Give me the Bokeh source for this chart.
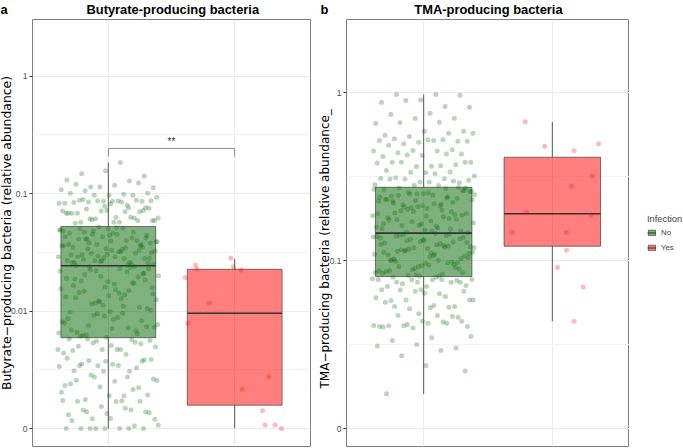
from bokeh.plotting import figure
from bokeh.layouts import row
from bokeh.models import FixedTicker, Legend, LegendItem, Range1d, Title
from bokeh.embed import file_html
from bokeh.resources import INLINE
from bokeh.core.properties import value

FONT = "Liberation Sans"
LABEL_FONT = "DejaVu Sans"
GREEN = "#006400"
RED = "#FF0000"
NBSP = "\u00a0"

groups = ["No", "Yes"]
group_pos = [1, 2]

# ---------------- Butyrate-producing bacteria ----------------
but_title = "Butyrate-producing bacteria"
but_ylabel = "Butyrate\u2212producing bacteria (relative abundance)"
but_ticks = [0.001, 0.01, 0.1, 1]
but_tick_labels = ["0", "0.01", "0.1", "1"]
but_lo = [0.001, 0.001]
but_q1 = [0.00594, 0.00158]
but_med = [0.0243, 0.00958]
but_q3 = [0.0525, 0.0227]
but_hi = [0.184, 0.0279]

but_no = [
    0.184, 0.148, 0.141, 0.157, 0.131, 0.128, 0.114, 0.112, 0.118, 0.120, 0.123, 0.114,
    0.108, 0.099, 0.106, 0.101, 0.097, 0.101, 0.097, 0.097, 0.093, 0.087, 0.088, 0.086,
    0.086, 0.083, 0.080, 0.085, 0.087, 0.086, 0.084, 0.088, 0.087, 0.083, 0.085, 0.089,
    0.076, 0.072, 0.068, 0.063, 0.060, 0.059, 0.063, 0.068, 0.070, 0.071, 0.071, 0.070,
    0.074, 0.075, 0.082, 0.068, 0.062, 0.061, 0.062, 0.057, 0.057, 0.072, 0.078, 0.068,
    0.076, 0.061, 0.059, 0.057, 0.056, 0.059,
    0.052, 0.049, 0.051, 0.047, 0.044, 0.050, 0.046, 0.042, 0.048, 0.039, 0.045, 0.041,
    0.037, 0.043, 0.036, 0.040, 0.034, 0.038, 0.033, 0.035, 0.031, 0.037, 0.029, 0.032,
    0.030, 0.028, 0.034, 0.027, 0.026, 0.031, 0.025, 0.029, 0.0245, 0.033, 0.0265, 0.036,
    0.028, 0.041, 0.0255, 0.044, 0.030, 0.047, 0.027, 0.039, 0.032, 0.0505, 0.035, 0.0285,
    0.043, 0.0248, 0.038, 0.0315, 0.046, 0.026, 0.040, 0.0295, 0.049, 0.0335, 0.0275, 0.042,
    0.0305, 0.037, 0.025, 0.045, 0.0325, 0.0515, 0.029, 0.036, 0.0268, 0.048, 0.0345, 0.041,
    0.0282, 0.0395, 0.0258,
    0.024, 0.022, 0.020, 0.023, 0.018, 0.021, 0.016, 0.019, 0.015, 0.0225, 0.014, 0.017,
    0.013, 0.0195, 0.012, 0.0155, 0.011, 0.0205, 0.0105, 0.0135, 0.0098, 0.0175, 0.0092, 0.0125,
    0.0088, 0.0145, 0.0083, 0.0112, 0.0079, 0.0215, 0.0075, 0.0102, 0.0071, 0.0165, 0.0068, 0.0095,
    0.0065, 0.0128, 0.0062, 0.0185, 0.0060, 0.0086, 0.0235, 0.0115, 0.0073, 0.0152, 0.0066, 0.0108,
    0.0198, 0.0081, 0.0138, 0.0063, 0.0228, 0.0099, 0.0069, 0.0172, 0.0118, 0.0077, 0.0142, 0.0061,
    0.0208, 0.0091, 0.0132, 0.0072, 0.0238, 0.0158, 0.0085, 0.0188, 0.0064, 0.0122, 0.0219, 0.0096,
    0.0148, 0.0074, 0.0178,
    0.00579, 0.00571, 0.00534, 0.00494, 0.00470, 0.00502, 0.00527, 0.00470, 0.00438, 0.00426,
    0.00579, 0.00562, 0.00510, 0.00461, 0.00544, 0.00555, 0.00470, 0.00470, 0.00355, 0.00385,
    0.00374, 0.00396, 0.00307, 0.00285, 0.00264, 0.00253, 0.00258, 0.00222, 0.00226, 0.00204,
    0.00190, 0.00177, 0.00193, 0.00190, 0.00240, 0.00215, 0.00274, 0.00256, 0.00344, 0.00344,
    0.00374, 0.00307, 0.00233, 0.00275, 0.00379, 0.00387, 0.00353, 0.00311, 0.00329, 0.00342,
    0.00338, 0.00172, 0.00144, 0.00138, 0.00134, 0.00131, 0.00144, 0.00121, 0.00120, 0.00170,
    0.00171, 0.00171, 0.00154, 0.00173, 0.00149, 0.00139, 0.00137, 0.00122, 0.00117, 0.00105,
    0.001, 0.00107, 0.001, 0.001, 0.001, 0.001, 0.001, 0.001, 0.001,
]
but_yes = [0.0282, 0.0247, 0.0229, 0.0239, 0.0224, 0.0193, 0.01174, 0.00787, 0.00275,
           0.00217, 0.00142, 0.00107, 0.00107, 0.001]
but_yes_jit = [-0.03, -0.31, -0.30, -0.01, 0.05, -0.39, -0.20, -0.37, 0.27, 0.06, 0.22,
               0.24, 0.32, 0.37]
but_sig = "**"
but_sig_y = [0.207, 0.242]

# ---------------- TMA-producing bacteria ----------------
tma_title = "TMA-producing bacteria"
tma_ylabel = "TMA\u2212producing bacteria (relative abundance_"
tma_ticks = [0.01, 0.1, 1]
tma_tick_labels = ["0", "0.1", "1"]
tma_lo = [0.0161, 0.0435]
tma_q1 = [0.0803, 0.1217]
tma_med = [0.1455, 0.190]
tma_q3 = [0.273, 0.412]
tma_hi = [0.973, 0.669]

tma_no = [
    0.973, 0.973, 0.964, 0.904, 0.875, 0.826, 0.896, 0.818, 0.753, 0.740, 0.703, 0.700,
    0.656, 0.665, 0.660, 0.589, 0.589, 0.557, 0.573, 0.547, 0.573, 0.518, 0.530, 0.513,
    0.506, 0.518, 0.523, 0.495, 0.513, 0.523, 0.486, 0.456, 0.452, 0.448, 0.448, 0.438,
    0.430, 0.422, 0.416, 0.430, 0.425, 0.385, 0.364, 0.385, 0.371, 0.363, 0.381, 0.367,
    0.385, 0.385, 0.333, 0.343, 0.337, 0.335, 0.319, 0.328, 0.311, 0.290, 0.293, 0.308,
    0.307, 0.306, 0.301, 0.293, 0.306, 0.297, 0.281, 0.283, 0.280,
    0.27, 0.26, 0.25, 0.265, 0.24, 0.255, 0.23, 0.245, 0.22, 0.235, 0.21, 0.225,
    0.2, 0.215, 0.19, 0.205, 0.18, 0.195, 0.17, 0.185, 0.16, 0.175, 0.15, 0.165,
    0.155, 0.268, 0.148, 0.258, 0.172, 0.242, 0.188, 0.228, 0.158, 0.212, 0.198, 0.262,
    0.152, 0.232, 0.178, 0.248, 0.168, 0.218, 0.192, 0.272, 0.162, 0.238, 0.182, 0.208,
    0.147, 0.252, 0.174, 0.222, 0.196, 0.266, 0.156, 0.244, 0.186, 0.212, 0.166, 0.236,
    0.202, 0.258, 0.15, 0.226, 0.176, 0.249, 0.19, 0.216, 0.161, 0.27, 0.184, 0.231,
    0.154, 0.206, 0.246,
    0.145, 0.14, 0.135, 0.13, 0.125, 0.12, 0.115, 0.11, 0.105, 0.1, 0.095, 0.09,
    0.085, 0.081, 0.142, 0.137, 0.132, 0.127, 0.122, 0.117, 0.112, 0.107, 0.102, 0.097,
    0.092, 0.087, 0.083, 0.143, 0.128, 0.118, 0.108, 0.098, 0.088, 0.138, 0.124, 0.113,
    0.103, 0.093, 0.084, 0.141, 0.131, 0.121, 0.111, 0.101, 0.091, 0.082, 0.139, 0.126,
    0.116, 0.106, 0.096, 0.086, 0.144, 0.134, 0.119, 0.109, 0.099, 0.089, 0.0805, 0.136,
    0.123, 0.114, 0.104, 0.094, 0.087, 0.129, 0.119, 0.109, 0.1, 0.092, 0.085, 0.133,
    0.112, 0.097, 0.0815,
    0.0771, 0.0768, 0.0796, 0.0760, 0.0743, 0.0771, 0.0768, 0.0727, 0.0710, 0.0700, 0.0700,
    0.0743, 0.0768, 0.0778, 0.0796, 0.0743, 0.0743, 0.0670, 0.0670, 0.0611, 0.0583, 0.0583,
    0.0523, 0.0578, 0.0532, 0.0657, 0.0600, 0.0634, 0.0667, 0.0657, 0.0639, 0.0565, 0.0527,
    0.0516, 0.0583, 0.0540, 0.0532, 0.0460, 0.0482, 0.0405, 0.0430, 0.0409, 0.0405, 0.0424,
    0.0409, 0.0464, 0.0397, 0.0410, 0.0471, 0.0471, 0.0435, 0.0435, 0.0402, 0.0424, 0.0416,
    0.0353, 0.0347, 0.0334, 0.0302, 0.0316, 0.0310, 0.0291, 0.0271, 0.0220, 0.0237, 0.0161,
]
tma_yes = [0.670, 0.479, 0.450, 0.495, 0.318, 0.277, 0.194, 0.187, 0.147, 0.147, 0.115,
           0.0908, 0.0697, 0.0435]
tma_yes_jit = [-0.21, -0.06, 0.17, 0.36, 0.31, 0.15, -0.20, 0.30, -0.31, 0.11, 0.11,
               0.04, 0.24, 0.17]


def spread(n):
    # deterministic, evenly spread horizontal jitter (width 0.4 each side)
    return [(((k + 1) * 0.6180339887) % 1.0 - 0.5) * 0.8 for k in range(n)]


def make_panel(width, left, right, letter, gap, title, title_offset,
               ylabel, label_size, label_standoff, label_align, label_offset,
               yrange, ticks, labels, minor,
               lo, q1, med, q3, hi, no_vals, yes_vals, yes_jit):
    p = figure(width=width, height=448, y_axis_type="log",
               x_range=Range1d(0.4, 2.6), y_range=Range1d(*yrange),
               output_backend="svg", toolbar_location=None,
               min_border_left=left, min_border_right=right,
               min_border_top=19, min_border_bottom=2)
    p.title = Title(text=letter + NBSP * gap + title, align="left", offset=title_offset,
                    text_font=FONT, text_font_size="12.9px", text_font_style="bold",
                    text_color="black", standoff=2, vertical_align="top")
    p.xaxis.visible = False
    p.outline_line_color = "#7f7f7f"
    p.outline_line_width = 1
    p.background_fill_color = "white"
    p.border_fill_color = "white"

    ax = p.yaxis[0]
    ax.ticker = FixedTicker(ticks=ticks, minor_ticks=minor)
    ax.major_label_overrides = {t: l for t, l in zip(ticks, labels)}
    ax.axis_line_color = None
    ax.major_tick_line_color = "#333333"
    ax.major_tick_out = 3
    ax.major_tick_in = 0
    ax.minor_tick_line_color = None
    ax.major_label_text_font = FONT
    ax.major_label_text_font_size = "8.5px"
    ax.major_label_text_color = "#4D4D4D"
    ax.major_label_standoff = 1

    # y-axis title, drawn as a side title next to the axis
    yt = Title(text=ylabel, align=label_align, offset=label_offset, vertical_align="middle",
               text_font=LABEL_FONT, text_font_size=label_size, text_font_style="normal",
               text_color="black")
    try:
        yt.standoff = label_standoff
    except Exception:
        yt.standoff = 0
    p.add_layout(yt, "left")

    p.ygrid.ticker = FixedTicker(ticks=ticks, minor_ticks=minor)
    p.ygrid.grid_line_color = "#EBEBEB"
    p.ygrid.minor_grid_line_color = "#F4F4F4"
    p.xgrid.ticker = FixedTicker(ticks=group_pos)
    p.xgrid.grid_line_color = "#EBEBEB"

    colors = [GREEN, RED]
    for i, pos in enumerate(group_pos):
        p.segment(x0=[pos, pos], y0=[q3[i], q1[i]], x1=[pos, pos], y1=[hi[i], lo[i]],
                  line_color="#555555", line_width=1)
        p.vbar(x=[pos], width=0.75, bottom=[q1[i]], top=[q3[i]],
               fill_color=colors[i], fill_alpha=0.5,
               line_color="#333333", line_width=0.8, line_alpha=0.8)
        p.segment(x0=[pos - 0.375], y0=[med[i]], x1=[pos + 0.375], y1=[med[i]],
                  line_color="#333333", line_width=1.6)

    jit = spread(len(no_vals))
    p.scatter(x=[group_pos[0] + j for j in jit], y=no_vals, size=5,
              fill_color=GREEN, fill_alpha=0.27, line_color=None)
    p.scatter(x=[group_pos[1] + j for j in yes_jit], y=yes_vals, size=5,
              fill_color=RED, fill_alpha=0.27, line_color=None)
    return p


# ---- panel a ----
pa = make_panel(318, 32, 8, "a", 22, but_title, -32,
                but_ylabel, "12.4px", -15, "center", 0,
                (0.000703, 3.04), but_ticks, but_tick_labels, [0.00316, 0.0316, 0.316],
                but_lo, but_q1, but_med, but_q3, but_hi, but_no, but_yes, but_yes_jit)
pa.line(x=[group_pos[0], group_pos[0], group_pos[1], group_pos[1]],
        y=[but_sig_y[0], but_sig_y[1], but_sig_y[1], but_sig_y[0]],
        line_color="#8c8c8c", line_width=1)
pa.text(x=[sum(group_pos) / 2], y=[but_sig_y[1] * 1.03], text=[but_sig],
        text_align="center", text_baseline="bottom", text_font=value(FONT),
        text_font_size="10px", text_color="#333333")

# ---- panel b ----
pb = make_panel(311, 28, 0, "b", 24, tma_title, -26,
                tma_ylabel, "12.0px", -13, "left", 58,
                (0.00782, 2.72), tma_ticks, tma_tick_labels, [0.0316, 0.316],
                tma_lo, tma_q1, tma_med, tma_q3, tma_hi, tma_no, tma_yes, tma_yes_jit)

# ---- legend strip ----
pl = figure(width=54, height=448, x_range=Range1d(-10, -9), y_range=Range1d(-10, -9),
            output_backend="svg", toolbar_location=None,
            min_border_left=0, min_border_right=0, min_border_top=0, min_border_bottom=0)
pl.axis.visible = False
pl.grid.visible = False
pl.outline_line_color = None
items = []
for i, pos in enumerate(group_pos):
    rb = pl.vbar(x=[pos], width=0.75, bottom=[tma_q1[i]], top=[tma_q3[i]],
                 fill_color=[GREEN, RED][i], fill_alpha=0.5,
                 line_color="#333333", line_width=0.8, line_alpha=0.8)
    rm = pl.segment(x0=[pos - 0.375], y0=[tma_med[i]], x1=[pos + 0.375], y1=[tma_med[i]],
                    line_color="#333333", line_width=1)
    items.append(LegendItem(label=groups[i], renderers=[rb, rm]))
legend = Legend(items=items, title="Infection", location=(18, 194))
legend.title_text_font = FONT
legend.title_text_font_size = "9.3px"
legend.title_text_font_style = "normal"
legend.title_standoff = 4
legend.label_text_font = FONT
legend.label_text_font_size = "7.8px"
legend.glyph_width = 9
legend.glyph_height = 7
legend.label_standoff = 5
legend.label_height = 7
legend.spacing = 6
legend.padding = 0
legend.margin = 0
legend.border_line_color = None
legend.background_fill_alpha = 0
pl.add_layout(legend)

layout = row(pa, pb, pl)
open("out.html", "w").write(file_html(layout, INLINE))
